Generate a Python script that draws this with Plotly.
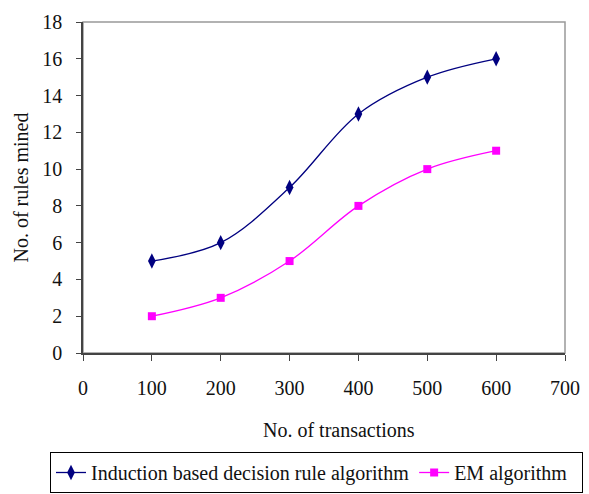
import plotly.graph_objects as go

transactions = [100, 200, 300, 400, 500, 600]
induction_rules = [5, 6, 9, 13, 15, 16]
em_rules = [2, 3, 5, 8, 10, 11]
x_ticks = [0, 100, 200, 300, 400, 500, 600, 700]
y_ticks = [0, 2, 4, 6, 8, 10, 12, 14, 16, 18]

FONT = "Liberation Serif"
W, H = 589, 494
L, T, B = 83, 22, 141
PW = W - L            # paper width (r margin = 0)
PH = H - T - B
PLOT_RIGHT = 565      # right edge of the plotting area in px

fig = go.Figure()
fig.add_trace(go.Scatter(
    x=transactions, y=induction_rules, mode="lines+markers",
    name="Induction based decision rule algorithm",
    line=dict(color="#000080", width=1.3, shape="spline", smoothing=1),
    marker=dict(symbol="diamond-tall", size=11, color="#000080"),
))
fig.add_trace(go.Scatter(
    x=transactions, y=em_rules, mode="lines+markers",
    name="EM algorithm", legendwidth=122,
    line=dict(color="#FF00FF", width=1.3, shape="spline", smoothing=1),
    marker=dict(symbol="square", size=8, color="#FF00FF"),
))

fig.update_layout(
    width=W, height=H,
    margin=dict(l=L, r=0, t=T, b=B),
    paper_bgcolor="white", plot_bgcolor="white",
    font=dict(family=FONT, size=20, color="#111"),
    showlegend=True,
    legend=dict(
        orientation="h", xref="paper", yref="paper",
        x=(50 - L) / PW, y=(353 - 452) / PH, xanchor="left", yanchor="top",
        bordercolor="black", borderwidth=1, font=dict(family=FONT, size=20),
        itemwidth=30, tracegroupgap=0,
    ),
    xaxis=dict(
        domain=[0, (PLOT_RIGHT - L) / PW], automargin=False,
        range=[0, 700], tickvals=x_ticks, ticks="outside", ticklen=6,
        tickcolor="#444", showline=True, linecolor="#444", linewidth=1.5,
        showgrid=False, zeroline=False, ticklabelstandoff=10,
    ),
    yaxis=dict(
        range=[0, 18], tickvals=y_ticks, ticks="outside", ticklen=5,
        tickcolor="#444", showline=True, linecolor="#444", linewidth=1.5,
        showgrid=False, zeroline=False, ticklabelstandoff=10, automargin=False,
        title=dict(text="No. of rules mined", standoff=8, font=dict(size=20)),
    ),
    shapes=[dict(type="rect", xref="x domain", yref="y domain", x0=0, y0=0, x1=1, y1=1,
                 line=dict(color="#999", width=1.5), layer="below")],
    annotations=[dict(text="No. of transactions", xref="paper", yref="paper",
                      x=(339 - L) / PW, y=(353 - 430) / PH, xanchor="center",
                      yanchor="middle", showarrow=False, font=dict(size=20))],
)
fig.write_html("out.html")
